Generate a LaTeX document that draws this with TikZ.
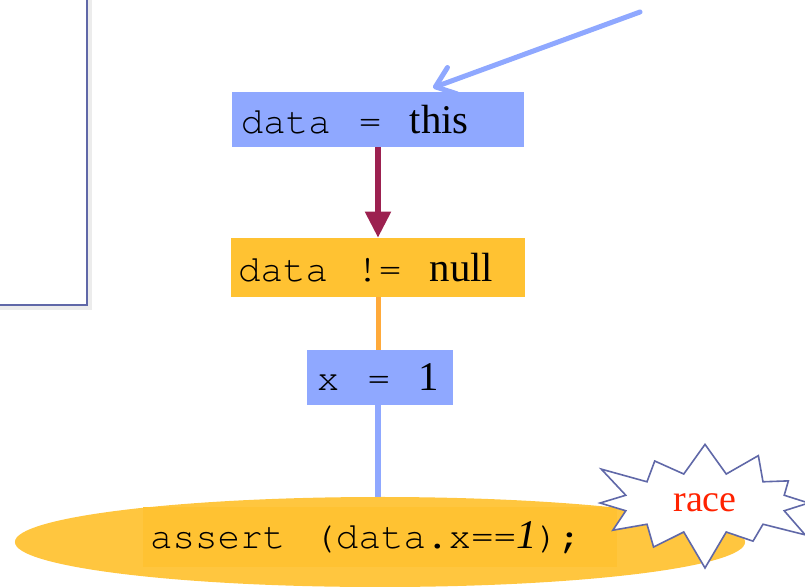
\documentclass[tikz,border=0pt]{standalone}
\usepackage{fontspec}
\setmainfont{Liberation Serif}
\setmonofont{Liberation Mono}
\usetikzlibrary{arrows.meta,shapes.geometric,shapes.symbols,shadows}
\definecolor{stmtblue}{HTML}{8FA8FF}
\definecolor{stmtorange}{HTML}{FFC232}
\definecolor{ellorange}{HTML}{FFC63F}
\definecolor{lineorange}{HTML}{FFAA3A}
\definecolor{hbmaroon}{HTML}{9C2150}
\definecolor{framecol}{HTML}{6068A8}
\definecolor{racered}{HTML}{FF2200}
% thin Courier for the code parts, wide fixed spaces
\newcommand{\cour}[1]{{\fontencoding{OT1}\fontfamily{pcr}\fontsize{26.7}{34}\selectfont
  \spaceskip=0.75em\relax\xspaceskip=0.75em\relax #1}}
\tikzset{
  stmt/.style={inner ysep=0pt,align=left,font=\fontsize{29}{34}\selectfont},
  edge/.style={line width=0.14cm},
}
\begin{document}
\begin{tikzpicture}[x=0.025cm,y=-0.025cm]
\useasboundingbox (0,0) rectangle (805,587);
% left frame
\draw[framecol,line width=0.05cm,fill=white,drop shadow={shadow xshift=0.12cm,shadow yshift=-0.12cm,opacity=0.15}](-20,-20)rectangle(87,305);
% statements
\node[stmt,fill=stmtblue,inner xsep=0.22cm,text width=6.86cm,minimum height=1.375cm](b1)at(378,119.5){\cour{data = }this};
\node[stmt,fill=stmtorange,inner xsep=0.18cm,text width=6.99cm,minimum height=1.475cm](b2)at(378,267.5){\cour{data != }null};
\node[stmt,fill=stmtblue,inner xsep=0.25cm,text width=3.15cm,minimum height=1.375cm](b3)at(380,377.5){\cour{x = }1};
\coordinate(src)at(640,12);
% assertion
\node[ellipse,fill=ellorange,minimum width=18.25cm,minimum height=2.25cm](ell)at(380,542){};
\node[stmt,fill=stmtorange,inner xsep=0.18cm,text width=11.49cm,minimum height=1.5cm](as)at(380,537){\cour{assert (data.x==}\textit{1}\cour{);}};
\node[starburst,starburst points=12,starburst point height=1cm,draw=framecol,fill=white,line width=0.04cm,minimum width=6.1cm,minimum height=3.5cm,text=racered,font=\fontsize{27}{32}\selectfont](race)at(705,503){race};
% edges
\draw[edge,stmtblue,line width=0.125cm,line cap=round,-{Straight Barb[length=0.45cm,width=0.7cm,round]}](src)--([xshift=1.375cm,yshift=0.1cm]b1.north);
\draw[edge,hbmaroon,-{Triangle[length=0.65cm,width=0.62cm]}](b1)--(b2);
\draw[edge,lineorange,line width=0.125cm](b2.south)--(b2.south|-b3.north);
\draw[edge,stmtblue](b3.south-|b2.south)--(b2.south|-ell.north);
\end{tikzpicture}
\end{document}
